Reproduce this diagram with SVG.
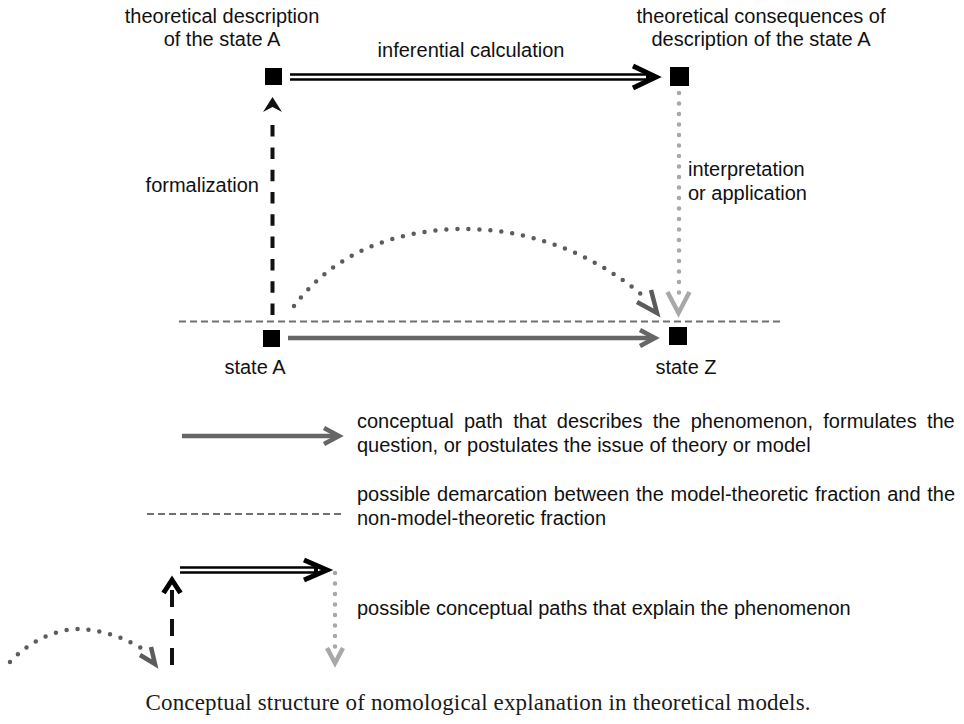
<svg xmlns="http://www.w3.org/2000/svg" width="964" height="724" viewBox="0 0 964 724">
<style>
text{font-family:"Liberation Sans",Arial,sans-serif;font-size:20px;fill:#111}
.cap{font-family:"Liberation Serif","Times New Roman",serif;font-size:23px;fill:#1a1a1a}
.sq{fill:#000}
.dbl-o{stroke:#000;stroke-width:7.5;fill:none}
.dbl-i{stroke:#fff;stroke-width:2.5;fill:none}
.head-b{stroke:#000;stroke-width:5;fill:none;stroke-linejoin:miter}
.dash{stroke:#111;stroke-width:4;fill:none}
.dotlight{stroke:#a8a8a8;stroke-width:4.5;stroke-linecap:round;stroke-dasharray:0 10.5;fill:none}
.headlight{stroke:#a8a8a8;stroke-width:4.5;fill:none;stroke-linejoin:miter}
.dotdark{stroke:#5c5c5c;stroke-width:4.5;stroke-linecap:round;stroke-dasharray:0 11;fill:none}
.headdark{stroke:#5c5c5c;stroke-width:4.5;fill:none;stroke-linejoin:miter}
.demarc{stroke:#707070;stroke-width:2;stroke-dasharray:7 4;fill:none}
.gray{stroke:#666;stroke-width:4.5;fill:none}
.grayhead{stroke:#666;stroke-width:4.5;fill:none;stroke-linejoin:miter}
</style>
<rect width="964" height="724" fill="#fff"/>

<g id="connectors">
  <!-- inferential calculation -->
  <path class="dbl-o" d="M290,77 H650"/>
  <path class="dbl-i" d="M290,77 H646"/>
  <polyline class="head-b" points="633,66 656,77 633,88"/>
  <!-- formalization -->
  <path class="dash" d="M272.5,315 V125" stroke-dasharray="11.5 10.8"/>
  <path d="M272.5,97 L282,112 L272.5,107 L263,112 Z" fill="#111"/>
  <!-- interpretation or application -->
  <path class="dotlight" d="M679,93 V302"/>
  <polyline class="headlight" points="667.5,292 678.5,313 689.5,292"/>
  <!-- curved explanation path -->
  <path class="dotdark" d="M294,306 C340,245 410,228 470,229 C540,231 600,258 648,300"/>
  <polyline class="headdark" points="637,302 657,313 651,290"/>
  <!-- demarcation -->
  <path class="demarc" d="M179,321.5 H782"/>
  <!-- state A to state Z -->
  <path class="gray" d="M288,338 H652"/>
  <polyline class="grayhead" points="640,330 655,338 640,346"/>
</g>

<g id="node-theory-A">
  <rect class="sq" x="265" y="68" width="17" height="17"/>
  <text x="222" y="23" text-anchor="middle">theoretical description</text>
  <text x="222" y="45.5" text-anchor="middle">of the state A</text>
</g>
<g id="node-theory-Z">
  <rect class="sq" x="670" y="67" width="19" height="19"/>
  <text x="761" y="23" text-anchor="middle">theoretical consequences of</text>
  <text x="761" y="45.5" text-anchor="middle">description of the state A</text>
</g>
<g id="node-state-A">
  <rect class="sq" x="263" y="330" width="17" height="17"/>
  <text x="255" y="374" text-anchor="middle">state A</text>
</g>
<g id="node-state-Z">
  <rect class="sq" x="669" y="327" width="18" height="18"/>
  <text x="686" y="374" text-anchor="middle">state Z</text>
</g>

<g id="labels">
  <text x="471" y="57" text-anchor="middle">inferential calculation</text>
  <text x="259" y="192" text-anchor="end">formalization</text>
  <text x="688" y="176">interpretation</text>
  <text x="688" y="200">or application</text>
</g>

<g id="legend">
  <path class="gray" d="M182,436 H336"/>
  <polyline class="grayhead" points="324,428 339,436 324,444"/>
  <text x="357" y="428" word-spacing="4.7">conceptual path that describes the phenomenon, formulates the</text>
  <text x="357" y="452">question, or postulates the issue of theory or model</text>

  <path class="demarc" d="M147,514 H342"/>
  <text x="357" y="501" word-spacing="1.1">possible demarcation between the model-theoretic fraction and the</text>
  <text x="357" y="525">non-model-theoretic fraction</text>

  <path class="dbl-o" d="M180,570 H318"/>
  <path class="dbl-i" d="M180,570 H314"/>
  <polyline class="head-b" points="304,560 327,570 304,580"/>
  <path class="dash" d="M172,665 V590" stroke-dasharray="17 12"/>
  <polyline class="head-b" stroke-width="4.5" points="163.5,593 172,580 180.5,593"/>
  <path class="dotlight" d="M335,573 V652" stroke-width="3.5" stroke-dasharray="0 7"/>
  <polyline class="headlight" stroke-width="3.5" points="327,648 335,663 343,648"/>
  <path class="dotdark" d="M10,662 C30,640 60,628 80,629 C105,630 130,640 147,652" stroke-width="3.5" stroke-dasharray="0 8.5"/>
  <polyline class="headdark" stroke-width="3.5" points="140,655 155,664 151,647"/>
  <text x="357" y="615">possible conceptual paths that explain the phenomenon</text>
</g>

<text class="cap" x="478" y="710" text-anchor="middle" textLength="665">Conceptual structure of nomological explanation in theoretical models.</text>
</svg>
